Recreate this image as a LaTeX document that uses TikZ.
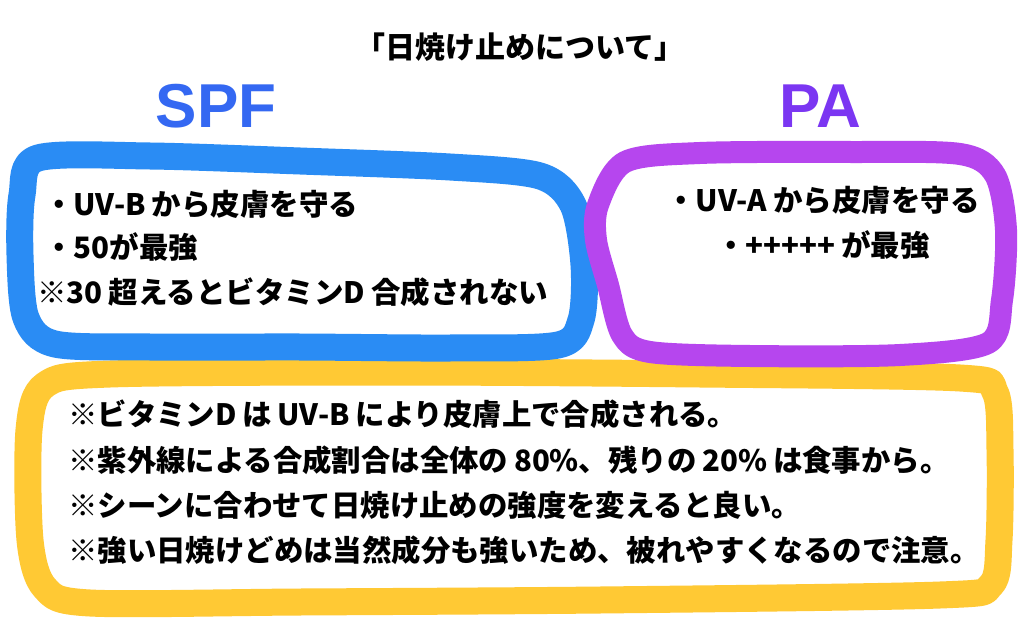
\documentclass[tikz,border=0pt]{standalone}
\usepackage{fontspec}
\newfontfamily\jp{Noto Sans CJK JP}
\newfontfamily\lat{Liberation Sans}
\definecolor{crayblue}{HTML}{2A8CF4}
\definecolor{craypurple}{HTML}{B646EE}
\definecolor{crayyellow}{HTML}{FFC934}
\definecolor{spfblue}{HTML}{3468F2}
\definecolor{papurple}{HTML}{7B36F2}
\newcommand{\gap}{\hspace{0.2em}}
\begin{document}
\begin{tikzpicture}[x=1pt,y=-1pt,
  crayon/.style={line width=#1, line join=round, line cap=round},
  bodytext/.style={font=\jp\bfseries\fontsize{29.5}{31}\selectfont, inner sep=0pt, text=black},
  notetext/.style={font=\jp\bfseries\fontsize{29.4}{32}\selectfont, inner sep=0pt, text=black, anchor=west},
  headtext/.style={font=\lat\bfseries\fontsize{62}{66}\selectfont, inner sep=0pt}]
\useasboundingbox (0,0) rectangle (1024,628);
\fill[white] (0,0) rectangle (1024,628);

% yellow box
\draw[crayon=27pt, crayyellow] plot[smooth cycle, tension=0.5] coordinates {
  (29,430) (45,385) (110,374) (400,372) (700,374) (960,378) (995,392)
  (1000,450) (999,540) (991,585) (940,595) (600,600) (300,602) (90,603)
  (45,588) (30,540)};
% blue box
\draw[crayon=27pt, crayblue] plot[smooth cycle, tension=0.5] coordinates {
  (22,195) (38,158) (150,156) (300,161) (450,167) (540,176) (573,205)
  (584,265) (581,320) (558,345) (450,348) (300,347) (150,347) (55,344)
  (26,318) (20,255)};
% purple box
\draw[crayon=22pt, craypurple] plot[smooth cycle, tension=0.5] coordinates {
  (598,205) (625,162) (700,153) (850,152) (960,154) (995,175) (1006,230)
  (1002,300) (988,343) (900,355) (750,356) (650,352) (622,335) (608,285)
  (596,240)};

% title
\node[font=\jp\bfseries\fontsize{30}{32}\selectfont, inner sep=0pt] (title) at (520,47) {「日焼け止めについて」};
% headings
\node[headtext, text=spfblue] (spf) at (216,106) {SPF};
\node[headtext, text=papurple] (pa) at (820,106) {PA};

% SPF text
\node[bodytext, anchor=west] (s1) at (44,204) {・UV-B\gap から皮膚を守る};
\node[bodytext, anchor=west] (s2) at (44,247) {・50が最強};
\node[bodytext, anchor=west] (s3) at (37,292) {※30\gap 超えるとビタミンD\gap 合成されない};

% PA text
\node[bodytext] (p1) at (823,200) {・UV-A\gap から皮膚を守る};
\node[bodytext] (p2) at (823,245) {・+++++\gap が最強};

% notes
\node[notetext] (n1) at (68,414) {※ビタミンD\gap は\gap UV-B\gap により皮膚上で合成される。};
\node[notetext] (n2) at (68,460) {※紫外線による合成割合は全体の\gap 80\%、残りの\gap 20\%\gap は食事から。};
\node[notetext] (n3) at (68,505) {※シーンに合わせて日焼け止めの強度を変えると良い。};
\node[notetext] (n4) at (68,550) {※強い日焼けどめは当然成分も強いため、被れやすくなるので注意。};
\end{tikzpicture}
\end{document}
